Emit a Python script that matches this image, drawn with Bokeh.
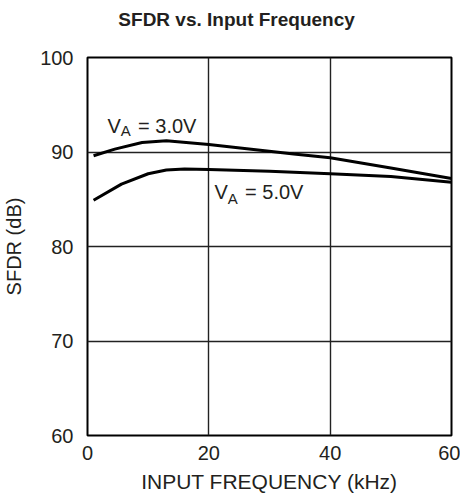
from bokeh.plotting import figure
from bokeh.models import Label, FixedTicker, Range1d
from bokeh.layouts import column
from bokeh.core.properties import value
from bokeh.embed import file_html
from bokeh.resources import INLINE

# Data
freq_3v = [1, 4.5, 9, 13, 20, 34, 40, 50, 60]
sfdr_3v = [89.6, 90.3, 91.0, 91.2, 90.8, 89.8, 89.4, 88.3, 87.2]

freq_5v = [1, 5.6, 10, 13, 16, 20, 30, 40, 50, 60]
sfdr_5v = [84.9, 86.6, 87.7, 88.1, 88.2, 88.15, 87.95, 87.7, 87.4, 86.8]

x_ticks = [0, 20, 40, 60]
y_ticks = [60, 70, 80, 90, 100]

title_text = ["SFDR vs. Input Frequency"]

FONT = "Liberation Sans"
TXT = "#231f20"
W = 460
TH = 40
LB, RB = 86, 9

# --- title strip (frame aligned with the main chart's frame) ---
t = figure(width=W, height=TH, output_backend="svg", toolbar_location=None,
           x_range=Range1d(LB, W - RB), y_range=Range1d(0, TH),
           x_axis_location=None, y_axis_location=None,
           min_border_left=LB, min_border_right=RB,
           min_border_top=0, min_border_bottom=0)
t.outline_line_color = None
t.xgrid.visible = False
t.ygrid.visible = False
t.text(x=[235.5], y=[21.0], text=title_text, text_font=value(FONT),
       text_font_size="19px", text_font_style="bold", text_color=TXT,
       text_align="center", text_baseline="alphabetic")

# --- main chart ---
p = figure(width=W, height=502 - TH, output_backend="svg", toolbar_location=None,
           x_range=Range1d(0, 60), y_range=Range1d(60, 100),
           min_border_left=LB, min_border_right=RB, min_border_top=57 - TH,
           min_border_bottom=67)

p.outline_line_color = "black"
p.outline_line_width = 2
p.background_fill_color = "white"
p.border_fill_color = "white"

for ax in (p.xaxis[0], p.yaxis[0]):
    ax.axis_line_color = None
    ax.major_tick_line_color = None
    ax.minor_tick_line_color = None
    ax.major_tick_out = 0
    ax.major_tick_in = 0
    ax.major_label_text_font = FONT
    ax.major_label_text_font_size = "20px"
    ax.major_label_text_color = TXT
    ax.axis_label_text_font = FONT
    ax.axis_label_text_font_style = "normal"
    ax.axis_label_text_color = TXT

p.xaxis.axis_label_text_font_size = "21px"
p.yaxis.axis_label_text_font_size = "20px"
p.xaxis.major_label_standoff = 10
p.yaxis.major_label_standoff = 14
p.xaxis.ticker = FixedTicker(ticks=x_ticks)
p.yaxis.ticker = FixedTicker(ticks=y_ticks)
p.xaxis.axis_label = "INPUT FREQUENCY (kHz)"
p.yaxis.axis_label = "SFDR (dB)"
p.xaxis.axis_label_standoff = 7
p.yaxis.axis_label_standoff = 12

p.xgrid.ticker = FixedTicker(ticks=x_ticks)
p.ygrid.ticker = FixedTicker(ticks=y_ticks)
for g in (p.xgrid[0], p.ygrid[0]):
    g.grid_line_color = "#222222"
    g.grid_line_width = 1.4

p.line(freq_3v, sfdr_3v, line_color="black", line_width=3)
p.line(freq_5v, sfdr_5v, line_color="black", line_width=3)

def va_label(x_v, x_a, x_rest, y_base, y_sub, rest):
    p.add_layout(Label(x=x_v, y=y_base, text="V", text_font=FONT, text_font_size="20px",
                       text_color=TXT, text_baseline="alphabetic"))
    p.add_layout(Label(x=x_a, y=y_sub, text="A", text_font=FONT, text_font_size="15px",
                       text_color=TXT, text_baseline="alphabetic"))
    p.add_layout(Label(x=x_rest, y=y_base, text=rest, text_font=FONT, text_font_size="20px",
                       text_color=TXT, text_baseline="alphabetic"))

va_label(3.29, 5.47, 8.33, 92.80, 92.28, "= 3.0V")
va_label(20.93, 23.13, 25.97, 85.75, 85.11, "= 5.0V")

layout = column(t, p, spacing=0)
open("out.html", "w").write(file_html(layout, INLINE))
